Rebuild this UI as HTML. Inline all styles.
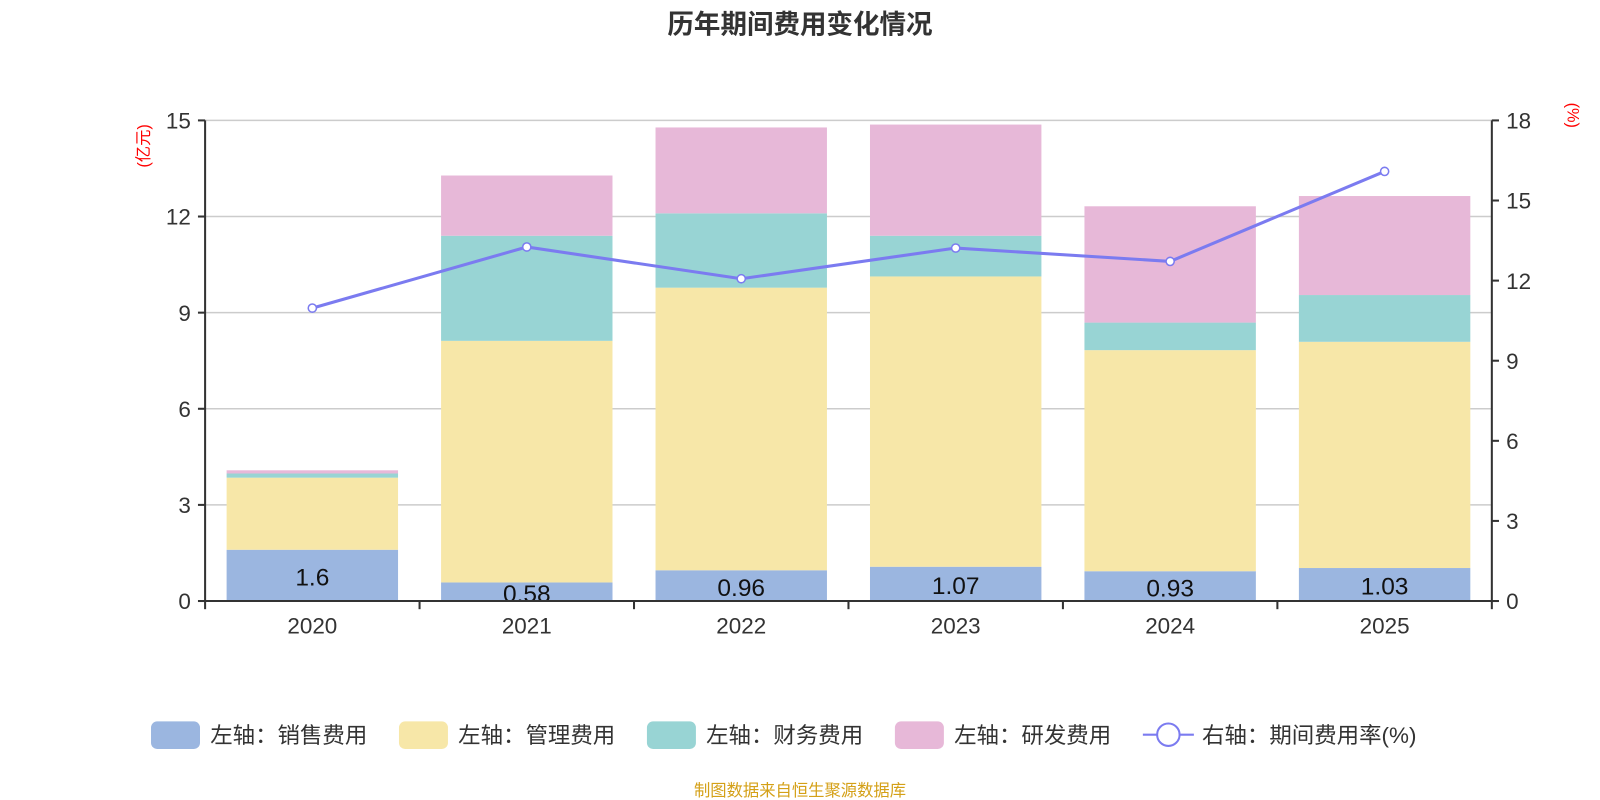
<!DOCTYPE html>
<html><head><meta charset="utf-8"><style>
body{margin:0;background:#fff;width:1600px;height:800px;overflow:hidden;font-family:"Liberation Sans","Noto Sans CJK SC",sans-serif}
</style></head><body>
<svg id="c" width="1600" height="800" viewBox="0 0 1568 784" style="font-family:'Liberation Sans','Noto Sans CJK SC',sans-serif;display:block">
<text x="784" y="33" text-anchor="middle" font-size="26" font-weight="bold" fill="#333">历年期间费用变化情况</text>
<text transform="translate(146,143) rotate(-90)" text-anchor="middle" font-size="16" fill="#f00">(亿元)</text>
<text transform="translate(1536,113) rotate(90)" text-anchor="middle" font-size="16" fill="#f00">(%)</text>
<g id="grid"></g><g id="bars"></g><g id="axes"></g><g id="line"></g>
<g id="legend" font-size="22" fill="#333">
<rect x="148" y="707" width="48" height="27" rx="6" fill="#9bb6e0"/><text x="206" y="728">左轴：销售费用</text>
<rect x="391" y="707" width="48" height="27" rx="6" fill="#f7e7a8"/><text x="449" y="728">左轴：管理费用</text>
<rect x="634" y="707" width="48" height="27" rx="6" fill="#98d4d4"/><text x="692" y="728">左轴：财务费用</text>
<rect x="877" y="707" width="48" height="27" rx="6" fill="#e7b8d8"/><text x="935" y="728">左轴：研发费用</text>
<line x1="1120" y1="720" x2="1170" y2="720" stroke="#7b7bf0" stroke-width="2"/><circle cx="1145" cy="720" r="11" fill="#fff" stroke="#7b7bf0" stroke-width="2"/><text x="1178" y="728">右轴：期间费用率(%)</text>
</g>
<text x="784" y="780" text-anchor="middle" font-size="16" fill="#d4a017">制图数据来自恒生聚源数据库</text>
</svg>
<script>
const years=['2020','2021','2022','2023','2024','2025'];
const sales=[1.6,0.58,0.96,1.07,0.93,1.03];
const admin=[2.25,7.54,8.82,9.06,6.9,7.06];
const finance=[0.13,3.28,2.32,1.27,0.86,1.46];
const rd=[0.1,1.88,2.68,3.47,3.63,3.09];
const rate=[10.97,13.26,12.07,13.22,12.72,16.09];
const leftTicks=[0,3,6,9,12,15];
const rightTicks=[0,3,6,9,12,15,18];
const NS='http://www.w3.org/2000/svg';
const X0=201,X1=1462,Y0=589,Y1=118;
const bw=(X1-X0)/years.length;
const yL=v=>Y0-(v/15)*(Y0-Y1);
const yR=v=>Y0-(v/18)*(Y0-Y1);
const xC=i=>X0+bw*(i+0.5);
function mk(t,a,p){const e=document.createElementNS(NS,t);for(const k in a)e.setAttribute(k,a[k]);document.getElementById(p).appendChild(e);return e;}
leftTicks.forEach(v=>{
 if(v>0){const g=mk('line',{x1:X0,x2:X1,y1:yL(v),y2:yL(v),stroke:'#ccc','stroke-width':1.5},'grid');
 
 }
 const t=mk('text',{x:X0-14,y:yL(v)+8,'text-anchor':'end','font-size':22,fill:'#333'},'axes');t.textContent=v;
 
 
 mk('line',{x1:X0-7,x2:X0,y1:yL(v),y2:yL(v),stroke:'#333','stroke-width':2},'axes');
});
rightTicks.forEach(v=>{
 const t=mk('text',{x:X1+14,y:yR(v)+8,'font-size':22,fill:'#333'},'axes');t.textContent=v;
 
 
 mk('line',{x1:X1,x2:X1+7,y1:yR(v),y2:yR(v),stroke:'#333','stroke-width':2},'axes');
});
const la=mk('line',{x1:X0,x2:X0,y1:Y1,y2:Y0,stroke:'#333','stroke-width':2},'axes');


const ra=mk('line',{x1:X1,x2:X1,y1:Y1,y2:Y0,stroke:'#333','stroke-width':2},'axes');


const xa=mk('line',{x1:X0,x2:X1,y1:Y0,y2:Y0,stroke:'#333','stroke-width':2},'axes');


for(let i=0;i<=years.length;i++)mk('line',{x1:X0+bw*i,x2:X0+bw*i,y1:Y0,y2:Y0+8,stroke:'#333','stroke-width':2},'axes');
const series=[[sales,'#9bb6e0','sales'],[admin,'#f7e7a8','admin'],[finance,'#98d4d4','finance'],[rd,'#e7b8d8','rd']];
years.forEach((y,i)=>{
 const t=mk('text',{x:xC(i),y:Y0+32,'text-anchor':'middle','font-size':22,fill:'#333'},'axes');t.textContent=y;
 
 
 let acc=0;
 series.forEach(([arr,col,nm])=>{
  const r=mk('rect',{x:xC(i)-84,width:168,y:yL(acc+arr[i]),height:yL(acc)-yL(acc+arr[i]),fill:col},'bars');
  
  
  acc+=arr[i];
 });
 const lb=mk('text',{x:xC(i),y:(yL(0)+yL(sales[i]))/2+10,'text-anchor':'middle','font-size':24,fill:'#111'},'bars');lb.textContent=sales[i];
 
 
});
const pl=mk('polyline',{points:rate.map((v,i)=>xC(i)+','+yR(v)).join(' '),fill:'none',stroke:'#7b7bf0','stroke-width':3},'line');


rate.forEach((v,i)=>{
 const c=mk('circle',{cx:xC(i),cy:yR(v),r:4,fill:'#fff',stroke:'#7b7bf0','stroke-width':1.5},'line');
 
 
});
</script>
</body></html>
